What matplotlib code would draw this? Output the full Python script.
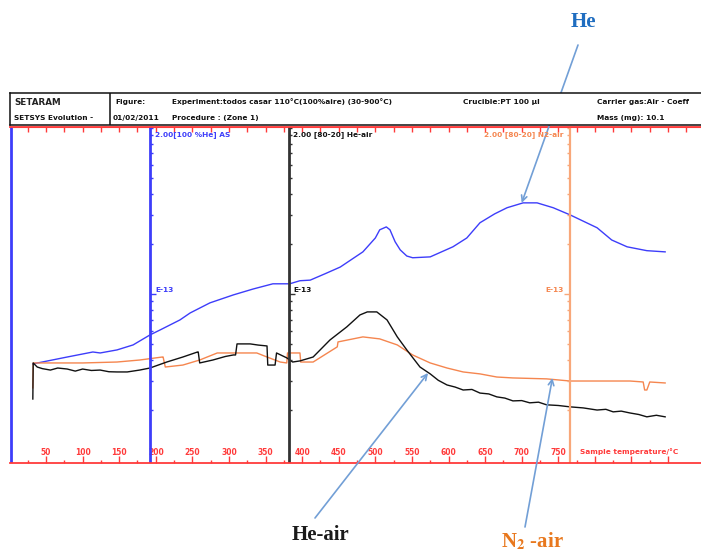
import matplotlib
matplotlib.use("Agg")
import matplotlib.pyplot as plt
import numpy as np

# sample temperature (deg C) and ion current (A)
he_T = [32, 79, 114, 124, 147, 169, 192, 206, 233, 247, 274, 306, 333, 360, 383,
        397, 411, 431, 452, 483, 500, 506, 515, 520, 527, 534, 543, 551, 575, 606,
        625, 643, 663, 680, 702, 721, 743, 766, 803, 823, 844, 871, 896]
he_I = [3.79e-14, 4.17e-14, 4.47e-14, 4.41e-14, 4.60e-14, 4.93e-14, 5.66e-14, 6.07e-14,
        6.97e-14, 7.68e-14, 8.83e-14, 9.86e-14, 1.07e-13, 1.15e-13, 1.15e-13, 1.20e-13,
        1.21e-13, 1.32e-13, 1.45e-13, 1.79e-13, 2.17e-13, 2.43e-13, 2.53e-13, 2.43e-13,
        2.06e-13, 1.84e-13, 1.69e-13, 1.65e-13, 1.67e-13, 1.92e-13, 2.17e-13, 2.68e-13,
        3.03e-13, 3.30e-13, 3.53e-13, 3.53e-13, 3.30e-13, 2.99e-13, 2.50e-13, 2.11e-13,
        1.92e-13, 1.82e-13, 1.79e-13]

heair_T = [32, 32.5, 38, 45, 56, 66, 79, 90, 100, 112, 124, 136, 147, 161, 178, 192,
           215, 237, 257, 258, 260, 278, 295, 306, 309, 311, 329, 340, 352, 353, 363,
           365, 379, 387, 397, 415, 438, 461, 479, 489, 502, 516, 530, 543, 561, 575,
           586, 598, 609, 620, 632, 643, 655, 666, 677, 688, 700, 711, 723, 734, 750,
           766, 784, 803, 815, 825, 836, 848, 860, 871, 884, 896]
heair_I = [2.33e-14, 3.84e-14, 3.63e-14, 3.55e-14, 3.48e-14, 3.58e-14, 3.53e-14, 3.43e-14,
           3.53e-14, 3.46e-14, 3.48e-14, 3.40e-14, 3.39e-14, 3.39e-14, 3.48e-14, 3.58e-14,
           3.89e-14, 4.17e-14, 4.47e-14, 4.47e-14, 3.84e-14, 4.00e-14, 4.20e-14, 4.29e-14,
           4.29e-14, 5.00e-14, 5.00e-14, 4.92e-14, 4.86e-14, 3.73e-14, 3.73e-14, 4.41e-14,
           4.12e-14, 3.89e-14, 3.95e-14, 4.17e-14, 5.28e-14, 6.33e-14, 7.47e-14, 7.79e-14,
           7.79e-14, 6.97e-14, 5.51e-14, 4.60e-14, 3.63e-14, 3.30e-14, 3.02e-14, 2.83e-14,
           2.75e-14, 2.64e-14, 2.66e-14, 2.53e-14, 2.50e-14, 2.40e-14, 2.36e-14, 2.27e-14,
           2.28e-14, 2.21e-14, 2.23e-14, 2.15e-14, 2.13e-14, 2.09e-14, 2.06e-14, 2.00e-14,
           2.02e-14, 1.95e-14, 1.97e-14, 1.92e-14, 1.88e-14, 1.82e-14, 1.86e-14, 1.82e-14]

n2air_T = [32, 32.5, 56, 100, 147, 178, 209, 210, 213, 237, 260, 284, 306, 338, 352,
           370, 379, 380, 397, 398, 415, 448, 449, 483, 506, 530, 551, 575, 598, 620,
           643, 666, 688, 734, 766, 803, 848, 866, 868, 871, 875, 896]
n2air_I = [2.72e-14, 3.84e-14, 3.84e-14, 3.84e-14, 3.89e-14, 4.00e-14, 4.17e-14, 4.17e-14,
           3.63e-14, 3.73e-14, 4.00e-14, 4.41e-14, 4.41e-14, 4.41e-14, 4.17e-14, 3.89e-14,
           3.84e-14, 4.41e-14, 4.41e-14, 3.89e-14, 3.89e-14, 4.80e-14, 5.14e-14, 5.51e-14,
           5.36e-14, 4.93e-14, 4.29e-14, 3.84e-14, 3.58e-14, 3.39e-14, 3.30e-14, 3.16e-14,
           3.12e-14, 3.08e-14, 2.99e-14, 2.99e-14, 2.99e-14, 2.95e-14, 2.64e-14, 2.64e-14,
           2.95e-14, 2.91e-14]

temp_ticks = list(range(50, 901, 50))
temp_labels = [str(t) if t <= 750 else "" for t in temp_ticks]
curr_ticks = [k * 1e-14 for k in range(2, 10)] + [k * 1e-13 for k in range(1, 11)]

axis_T = {"blue": 2, "he": 192, "heair": 382, "n2": 766}

W, H = 701, 554
fig = plt.figure(figsize=(W / 100, H / 100), dpi=100)

def fx(px):
    return px / W

def fy(py):
    return 1 - py / H

RED = "#ff3a3a"
BLUE = "#3d3dfa"
BLACK = "#111111"
ORANGE = "#f5864f"
ORANGE_AX = "#f8a779"

ax = fig.add_axes([fx(10), fy(463), fx(701) - fx(10), fy(127) - fy(463)])
xmin, xmax = 0.8, 945
ax.set_xlim(xmin, xmax)
ax.set_yscale("log")
ax.set_ylim(9.6e-15, 1.01e-12)
ax.set_yticks([])
ax.minorticks_off()
ax.yaxis.set_tick_params(which="both", left=False, labelleft=False)
for s in ["left", "right"]:
    ax.spines[s].set_visible(False)
for s in ["top", "bottom"]:
    ax.spines[s].set_color(RED)
    ax.spines[s].set_linewidth(1.3)

ax.set_xticks(temp_ticks)
ax.set_xticklabels(temp_labels)
ax.set_xticks(range(25, 901, 50), minor=True)
ax.tick_params(axis="x", which="major", direction="in", length=5, width=1,
               color=RED, labelcolor=RED, labelsize=5.5, pad=-11)
ax.tick_params(axis="x", which="minor", direction="in", length=2.5, width=1, color=RED)
for lab in ax.get_xticklabels():
    lab.set_fontweight("bold")

top = ax.secondary_xaxis("top")
top.set_xticks(range(25, 926, 25))
top.set_xticklabels([])
top.tick_params(direction="in", length=3.5, width=1, color=RED)
top.spines["top"].set_color(RED)

# curves
ax.plot(he_T, he_I, color=BLUE, lw=1.0)
ax.plot(n2air_T, n2air_I, color=ORANGE, lw=1.0)
ax.plot(heair_T, heair_I, color=BLACK, lw=1.0)

# vertical signal axes
ytr = ax.get_yaxis_transform()
def vaxis(T0, color, lw, side):
    f = (T0 - xmin) / (xmax - xmin)
    ax.axvline(T0, color=color, lw=lw)
    for v in curr_ticks:
        ln = 0.0085 if abs(v - 1e-13) < 1e-16 else 0.005
        ax.plot([f, f + side * ln], [v, v], color=color, lw=1, transform=ytr,
                solid_capstyle="butt")

ax.axvline(axis_T["blue"], color=BLUE, lw=2)
vaxis(axis_T["he"], BLUE, 2, 1)
vaxis(axis_T["heair"], "#333333", 2, 1)
vaxis(axis_T["n2"], ORANGE_AX, 1.6, -1)

small = dict(fontsize=5.3, fontweight="bold")
fig.text(fx(155), fy(135), "2.00[100 %He] AS", color=BLUE, va="center", **small)
fig.text(fx(155), fy(290), "E-13", color=BLUE, va="center", **small)
fig.text(fx(293), fy(135), "2.00 [80-20] He-air", color=BLACK, va="center", **small)
fig.text(fx(293), fy(290), "E-13", color=BLACK, va="center", **small)
fig.text(fx(563), fy(135), "2.00 [80-20] N2-air", color=ORANGE, va="center",
         ha="right", **small)
fig.text(fx(564), fy(290), "E-13", color=ORANGE, va="center", ha="right", **small)
fig.text(fx(580), fy(452), "Sample temperature/°C", color=RED, va="center", **small)

# header block
hdr = fig.add_axes([fx(10), fy(125), fx(701) - fx(10), fy(93) - fy(125)])
hdr.set_xlim(10, 701)
hdr.set_ylim(125, 93)
hdr.set_xticks([])
hdr.set_yticks([])
for s in ["top", "left", "bottom"]:
    hdr.spines[s].set_color(BLACK)
    hdr.spines[s].set_linewidth(1.1)
hdr.spines["right"].set_visible(False)
hdr.axvline(110, color=BLACK, lw=1.1)
hdr.text(14, 103, "SETARAM", fontsize=6.3, fontweight="bold", va="center",
         color="#222222")
hdr.text(14, 118, "SETSYS Evolution -", va="center", color=BLACK, **small)
hdr.text(115, 102, "Figure:", va="center", color=BLACK, **small)
hdr.text(172, 102, "Experiment:todos casar 110°C(100%aire) (30-900°C)", va="center",
         color=BLACK, **small)
hdr.text(463, 102, "Crucible:PT 100 µl", va="center", color=BLACK, **small)
hdr.text(597, 102, "Carrier gas:Air - Coeff", va="center", color=BLACK, **small)
hdr.text(113, 118, "01/02/2011", va="center", color=BLACK, **small)
hdr.text(172, 118, "Procedure : (Zone 1)", va="center", color=BLACK, **small)
hdr.text(597, 118, "Mass (mg): 10.1", va="center", color=BLACK, **small)

# call-outs
arrow = dict(arrowstyle="->", color="#729fd6", lw=1.2, shrinkA=0, shrinkB=0)
ax.annotate("", xy=(700, 3.53e-13), xytext=(578, H - 45), textcoords="figure pixels",
            arrowprops=arrow, annotation_clip=False)
ax.annotate("", xy=(572, 3.34e-14), xytext=(315, H - 518), textcoords="figure pixels",
            arrowprops=arrow, annotation_clip=False)
ax.annotate("", xy=(742, 3.12e-14), xytext=(525, H - 527), textcoords="figure pixels",
            arrowprops=arrow, annotation_clip=False)

plt.rcParams["mathtext.fontset"] = "stix"
big = dict(fontsize=15, fontweight="bold", family="Liberation Serif",
           ha="center", va="center")
fig.text(fx(583), fy(22), "He", color="#1f6dc0", **big)
fig.text(fx(320), fy(535), "He-air", color="#1a1a1a", **big)
fig.text(fx(532), fy(541), r"N$_{\mathbf{2}}$ -air", color="#e8781e", **big)

fig.savefig("out.png", dpi=100)
